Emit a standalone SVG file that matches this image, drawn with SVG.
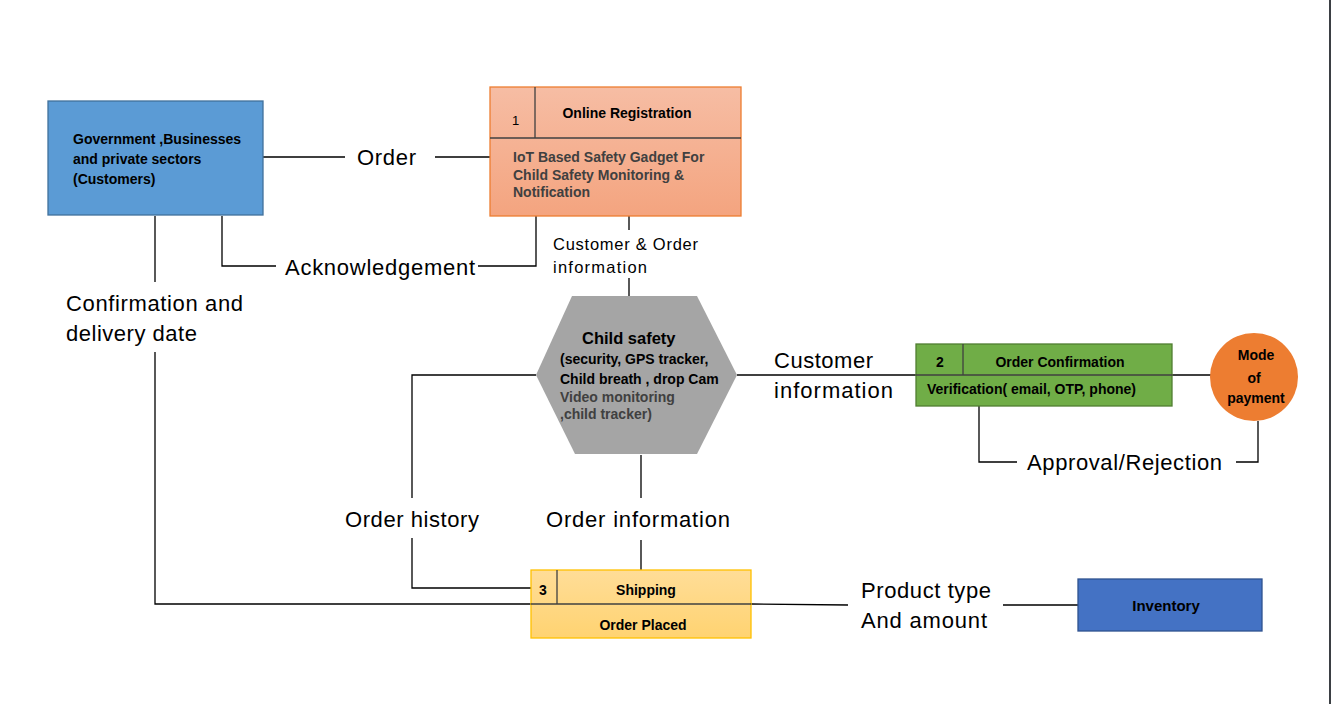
<svg xmlns="http://www.w3.org/2000/svg" width="1331" height="704" viewBox="0 0 1331 704">
<defs>
<linearGradient id="gOrange" x1="0" y1="0" x2="0" y2="1">
<stop offset="0" stop-color="#F6BDA4"/>
<stop offset="1" stop-color="#F4A47F"/>
</linearGradient>
<linearGradient id="gYellow" x1="0" y1="0" x2="0" y2="1">
<stop offset="0" stop-color="#FFDD98"/>
<stop offset="1" stop-color="#FFD371"/>
</linearGradient>
<style>
text{font-family:"Liberation Sans",Arial,sans-serif;fill:#000}
.b{font-weight:bold;font-size:14px}
.lbl{font-size:22px}
.mid{font-size:16.5px}
.dk{fill:#404040}
.ln{fill:none;stroke:#000;stroke-width:1.3}
.dv{fill:none;stroke:#404040;stroke-width:1.3}
</style>
</defs>
<rect x="0" y="0" width="1331" height="704" fill="#fff"/>
<rect x="1329" y="0" width="2" height="704" fill="#3b3f44"/>

<g id="connectors">
<!-- Order -->
<path class="ln" d="M263 157H345M435 157H490"/>
<!-- Acknowledgement -->
<path class="ln" d="M222 216V266H276M478 266H536V216"/>
<!-- Customer & Order info -->
<path class="ln" d="M629 216V230M629 278V296"/>
<!-- Customer information -->
<path class="ln" d="M737 375H1211"/>
<!-- Approval/Rejection -->
<path class="ln" d="M979 406V462H1017M1236 462H1258V421"/>
<!-- Confirmation and delivery date -->
<path class="ln" d="M155 216V282M155 352V604H531M751 604L848 605M1003 605H1078"/>
<!-- Order history -->
<path class="ln" d="M536 375H412V498M412 538V588H531"/>
<!-- Order information -->
<path class="ln" d="M641 455V498M641 540V570"/>
</g>

<g id="labels">
<text class="lbl" x="357" y="165" textLength="59">Order</text>
<text class="lbl" x="285" y="275" textLength="190">Acknowledgement</text>
<text class="mid" x="553" y="250" textLength="145">Customer &amp; Order</text>
<text class="mid" x="553" y="273" textLength="94">information</text>
<text class="lbl" x="774" y="368" textLength="99">Customer</text>
<text class="lbl" x="774" y="398" textLength="119">information</text>
<text class="lbl" x="1027" y="470" textLength="195">Approval/Rejection</text>
<text class="lbl" x="66" y="311" textLength="177">Confirmation and</text>
<text class="lbl" x="66" y="341" textLength="131">delivery date</text>
<text class="lbl" x="345" y="527" textLength="134">Order history</text>
<text class="lbl" x="546" y="527" textLength="184">Order information</text>
<text class="lbl" x="861" y="598" textLength="130">Product type</text>
<text class="lbl" x="861" y="628" textLength="126">And amount</text>
</g>

<g id="customers">
<rect x="48" y="101" width="215" height="114" fill="#5B9BD5" stroke="#41719C" stroke-width="1.3"/>
<text class="b" x="73" y="144">Government ,Businesses</text>
<text class="b" x="73" y="164">and private sectors</text>
<text class="b" x="73" y="184">(Customers)</text>
</g>

<g id="registration">
<rect x="490" y="87" width="251" height="129" fill="url(#gOrange)" stroke="#ED7D31" stroke-width="1.3"/>
<path class="dv" d="M490 138H741M535 87V138"/>
<text x="512" y="125" style="font-size:13px">1</text>
<text class="b" x="627" y="118" text-anchor="middle">Online Registration</text>
<text class="b dk" x="513" y="162">IoT Based Safety Gadget For</text>
<text class="b dk" x="513" y="180">Child Safety Monitoring &amp;</text>
<text class="b dk" x="513" y="197">Notification</text>
</g>

<g id="childsafety">
<polygon points="572,296 697,296 737,375 697,454 575,454 536,375" fill="#A5A5A5"/>
<text x="582" y="344" style="font-weight:bold;font-size:16.5px">Child safety</text>
<text class="b" x="560" y="364">(security, GPS tracker,</text>
<text class="b" x="560" y="384">Child breath , drop Cam</text>
<text class="b dk" x="560" y="402">Video monitoring</text>
<text class="b dk" x="560" y="419">,child tracker)</text>
</g>

<g id="confirmation">
<rect x="916" y="344" width="256" height="62" fill="#70AD47" stroke="#507E32" stroke-width="1.3"/>
<path class="dv" d="M916 375H1172M963 344V375"/>
<text class="b" x="940" y="367" text-anchor="middle">2</text>
<text class="b" x="1060" y="367" text-anchor="middle">Order Confirmation</text>
<text class="b" x="927" y="394">Verification( email, OTP, phone)</text>
</g>

<g id="payment">
<circle cx="1254" cy="377" r="44" fill="#ED7D31"/>
<text class="b" x="1256" y="360" text-anchor="middle">Mode</text>
<text class="b" x="1254" y="383" text-anchor="middle">of</text>
<text class="b" x="1256" y="403" text-anchor="middle">payment</text>
</g>

<g id="shipping">
<rect x="531" y="570" width="220" height="68" fill="url(#gYellow)" stroke="#FFC000" stroke-width="1.3"/>
<path class="dv" d="M531 604H751M557 570V604"/>
<text class="b" x="543" y="595" text-anchor="middle">3</text>
<text class="b" x="646" y="595" text-anchor="middle">Shipping</text>
<text class="b" x="643" y="630" text-anchor="middle">Order Placed</text>
</g>

<g id="inventory">
<rect x="1078" y="579" width="184" height="52" fill="#4472C4" stroke="#2F528F" stroke-width="1.3"/>
<text x="1166" y="611" text-anchor="middle" style="font-weight:bold;font-size:15px">Inventory</text>
</g>
</svg>
